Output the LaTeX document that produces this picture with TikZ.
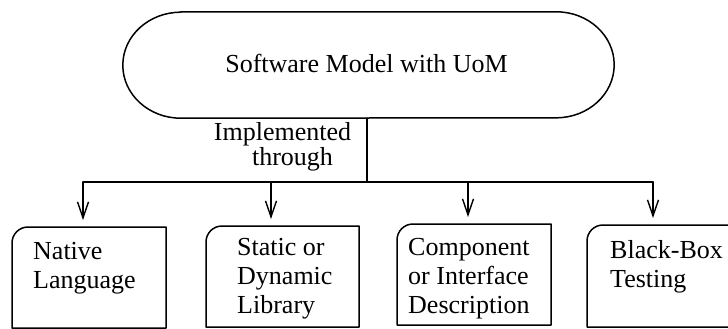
\documentclass[tikz,border=0pt]{standalone}
\usepackage{fontspec}
\setmainfont{Liberation Serif}
\usetikzlibrary{arrows.meta}
\tikzset{
  ln/.style={line width=1.5pt, line cap=round, line join=round},
  arr/.style={ln, -{Straight Barb[length=16pt,width=11pt,line width=1.4pt]}, shorten >=7pt},
  boxnode/.style={inner sep=0pt, outer sep=0pt, anchor=north west},
  txt/.style={font=\fontsize{26}{29}\selectfont, align=left, anchor=base west, inner sep=0pt},
}
\newcommand{\topleftbox}[1]{%
  \draw[ln] (#1.south west) -- ([yshift=-16pt]#1.north west)
    arc[start angle=180,end angle=90,radius=16pt] -- (#1.north east)
    -- (#1.south east) -- cycle;}
\begin{document}
\begin{tikzpicture}[x=1pt,y=-1pt]
\clip (0,0) rectangle (728,329);
% top stadium
\node[inner sep=0pt, minimum width=491pt, minimum height=106pt] (top) at (368.5,65) {};
\draw[ln] ([xshift=58pt]top.north west) -- ([xshift=-58pt]top.north east)
  arc[start angle=90,end angle=-90,x radius=58pt,y radius=53pt]
  -- ([xshift=58pt]top.south west)
  arc[start angle=270,end angle=90,x radius=58pt,y radius=53pt] -- cycle;
\node[font=\fontsize{26}{29}\selectfont, anchor=base, inner sep=0pt] (title) at (366.5,72) {Software Model with UoM};
% label
\node[font=\fontsize{26}{20}\selectfont, align=center, anchor=base, inner sep=0pt] (lab) at (282.5,165) {Implemented\\\hspace*{20pt}through};
% boxes
\node[boxnode, minimum width=154pt, minimum height=101pt] (b1) at (12,227) {};
\node[boxnode, minimum width=153pt, minimum height=101pt] (b2) at (206,226) {};
\node[boxnode, minimum width=154pt, minimum height=101pt] (b3) at (397,224) {};
\node[boxnode, minimum width=158pt, minimum height=102pt] (b4) at (587,225) {};
\topleftbox{b1}
\topleftbox{b2}
\topleftbox{b3}
\topleftbox{b4}
\node[txt] (t1) at (33,288) {Native\\Language};
\node[txt] (t2) at (237,313) {Static or\\Dynamic\\Library};
\node[txt] (t3) at (408,313) {Component\\or Interface\\Description};
\node[txt] (t4) at (610,287) {Black-Box\\Testing};
% connectors
\coordinate (j) at (367,182);
\coordinate (j1) at (83,182);
\coordinate (j2) at (271,182);
\coordinate (j3) at (468,182);
\coordinate (j4) at (653,182);
\draw[ln] (top.south -| j) -- (j);
\draw[ln] (j1) -- (j4);
\draw[arr] (j1) -- (b1.north -| j1);
\draw[arr] (j2) -- (b2.north -| j2);
\draw[arr] (j3) -- (b3.north -| j3);
\draw[arr] (j4) -- (b4.north -| j4);
\end{tikzpicture}
\end{document}
